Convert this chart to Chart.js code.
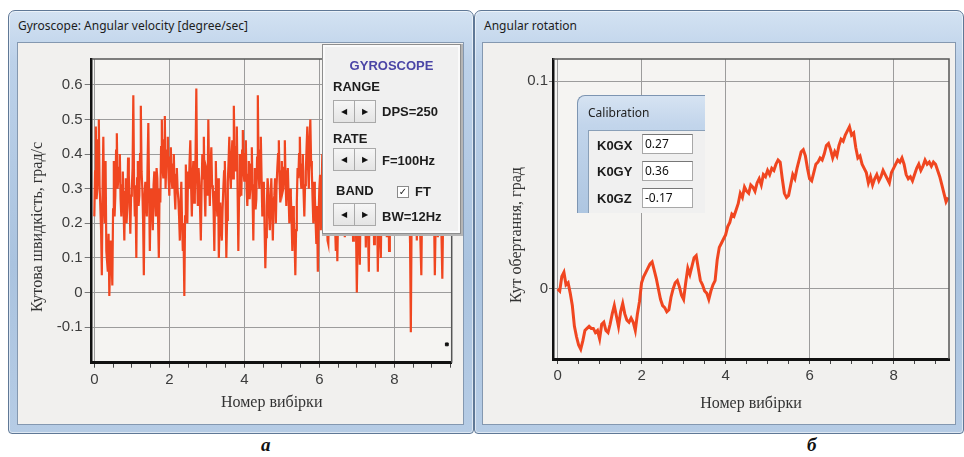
<!DOCTYPE html>
<html>
<head>
<meta charset="utf-8">
<script src="https://cdn.jsdelivr.net/npm/chart.js@4.4.1/dist/chart.umd.min.js"></script>
<style>
  body { margin: 0; width: 964px; height: 457px; background: #fff; position: relative; overflow: hidden; font-family: "Noto Sans", sans-serif; }
  .win { position: absolute; border: 1px solid #5f7896; border-radius: 7px 7px 4px 4px;
         background: linear-gradient(180deg, #d3e2f2 0%, #bcd1e9 12%, #aac3df 60%, #b6cce5 100%);
         box-shadow: inset 0 0 0 1px rgba(255,255,255,0.55); }
  .cap { position: absolute; font-size: 12px; color: #1c1c1c; }
  .client { position: absolute; background: #f1f0ee; border: 1px solid #8498b0; }
  canvas { position: absolute; }
  .sub { position: absolute; font: italic bold 19px "Liberation Serif", serif; color: #111; }

  #gyro { position: absolute; left: 323px; top: 45px; width: 133px; height: 184px; background: #f0f0f0;
          border: 2px solid #fafafa; outline: 1px solid #8d8d8d; box-shadow: 1px 1px 0 2px #b5b5b5; }
  #gyro div { position: absolute; font: bold 13px "Liberation Sans", Arial, sans-serif; color: #1d1d1d; line-height: 16px; white-space: nowrap; }
  #gyro .gt { left: 0; width: 133px; text-align: center; color: #4a45a6; }
  #gyro .btns { height: 22px; width: 42px; }
  #gyro .btns span { position: absolute; top: 0; width: 20px; height: 21px; background: linear-gradient(#f6f6f6, #e4e4e4);
          border: 1px solid #a9a9a9; font: 8px "DejaVu Sans", sans-serif; line-height: 21px; text-align: center; color: #111; }
  #gyro .chk { width: 10px; height: 10px; border: 1px solid #8a8a8a; background: #fff; font: bold 10px "DejaVu Sans"; line-height: 10px; text-align: center; }

  #calib { position: absolute; left: 577px; top: 95px; width: 128px; height: 118px; }
  #calib .bar { position: absolute; left: 0; top: 0; width: 128px; height: 118px; border-top-left-radius: 8px;
          background: linear-gradient(180deg, #d6e3f2 0%, #c2d5eb 25%, #aec6e1 100%);
          border-left: 1px solid #7d95b2; border-top: 1px solid #7d95b2; box-sizing: border-box; }
  #calib .ct { position: absolute; left: 11px; top: 9px; font-size: 12px; color: #222; }
  #calib .cc { position: absolute; left: 11px; top: 35px; width: 117px; height: 83px; background: #f0f0f0; border-left: 1px solid #8aa0b8; border-top: 1px solid #8aa0b8; box-sizing: border-box; }
  #calib .lb { position: absolute; left: 8px; font: bold 13px "Liberation Sans", Arial, sans-serif; color: #1a1a1a; }
  #calib .tb { position: absolute; left: 53px; width: 51px; height: 20px; background: #fff; border: 1px solid #a8a8a8; border-top-color: #777;
          box-sizing: border-box; font: 12px "Noto Sans", sans-serif; line-height: 18px; padding-left: 2px; color: #111; }
</style>
</head>
<body>

<div class="win" style="left:8px; top:10px; width:464px; height:422px;"></div>
<div class="cap" style="left:18px; top:17px;">Gyroscope: Angular velocity [degree/sec]</div>
<div class="client" style="left:17px; top:42px; width:445px; height:381px;"></div>

<div class="win" style="left:474px; top:10px; width:488px; height:422px;"></div>
<div class="cap" style="left:484px; top:17px;">Angular rotation</div>
<div class="client" style="left:482px; top:42px; width:472px; height:381px;"></div>

<canvas id="chartGyro" width="444" height="380" style="left:18px; top:43px;"></canvas>
<canvas id="chartRot" width="472" height="380" style="left:483px; top:43px;"></canvas>

<div id="gyro">
  <div class="gt" style="top:11px;">GYROSCOPE</div>
  <div style="left:8px; top:32px;">RANGE</div>
  <div class="btns" style="left:8px; top:53px;"><span style="left:0">&#9664;</span><span style="left:21px">&#9654;</span></div>
  <div style="left:57px; top:57px;">DPS=250</div>
  <div style="left:8px; top:84px;">RATE</div>
  <div class="btns" style="left:8px; top:101px;"><span style="left:0">&#9664;</span><span style="left:21px">&#9654;</span></div>
  <div style="left:57px; top:106px;">F=100Hz</div>
  <div style="left:11px; top:136px;">BAND</div>
  <div class="chk" style="left:72px; top:139px;">&#10003;</div>
  <div style="left:90px; top:137px;">FT</div>
  <div class="btns" style="left:8px; top:156px;"><span style="left:0">&#9664;</span><span style="left:21px">&#9654;</span></div>
  <div style="left:57px; top:162px;">BW=12Hz</div>
</div>

<div id="calib">
  <div class="bar"></div>
  <div class="ct">Calibration</div>
  <div class="cc">
    <div class="lb" style="top:7px;">K0GX</div><div class="tb" style="top:3px;">0.27</div>
    <div class="lb" style="top:33px;">K0GY</div><div class="tb" style="top:30px;">0.36</div>
    <div class="lb" style="top:60px;">K0GZ</div><div class="tb" style="top:57px;">-0.17</div>
  </div>
</div>

<div class="sub" style="left:261px; top:434px;">а</div>
<div class="sub" style="left:807px; top:434px;">б</div>

<script>
// angular velocity samples, one every 0.02 on the x axis (one row = 1.0)
const gyroStep = 0.02;
const gyroVelocity = [
  0.22,0.35, 0.48,0.27, 0.30,0.44, 0.50,0.31, 0.25,0.18, 0.05,0.30, 0.45,0.26, 0.20,0.38, 0.12,0.09, 0.06,0.17, -0.01,0.08, 0.15,0.10, 0.02,0.24, 0.38,0.22, 0.28,0.41, 0.46,0.30, 0.33,0.36, 0.40,0.27, 0.22,0.31, 0.35,0.24, 0.15,0.29, 0.33,0.20, 0.25,0.39, 0.34,0.26, 0.17,0.28,
  0.30,0.36, 0.57,0.31, 0.22,0.27, 0.10,0.33, 0.38,0.25, 0.28,0.40, 0.54,0.35, 0.30,0.21, 0.05,0.28, 0.32,0.26, 0.22,0.37, 0.49,0.30, 0.12,0.26, 0.30,0.24, 0.18,0.31, 0.35,0.27, 0.22,0.36, 0.33,0.21, 0.10,0.30, 0.26,0.42, 0.50,0.36, 0.33,0.44, 0.51,0.30, 0.38,0.41, 0.45,0.33,
  0.28,0.39, 0.42,0.33, 0.30,0.37, 0.40,0.29, 0.24,0.34, 0.36,0.30, 0.27,0.22, 0.15,0.26, 0.32,0.20, 0.12,0.16, -0.01,0.22, 0.37,0.28, 0.20,0.35, 0.30,0.38, 0.44,0.31, 0.22,0.33, 0.38,0.26, 0.28,0.40, 0.59,0.34, 0.25,0.36, 0.32,0.24, 0.15,0.30, 0.40,0.33, 0.45,0.30, 0.22,0.36,
  0.35,0.28, 0.50,0.34, 0.25,0.36, 0.42,0.31, 0.30,0.24, 0.12,0.29, 0.38,0.27, 0.22,0.33, 0.10,0.20, 0.26,0.19, 0.15,0.24, 0.30,0.35, 0.38,0.27, 0.10,0.21, 0.32,0.38, 0.45,0.34, 0.30,0.39, 0.44,0.33, 0.54,0.40, 0.35,0.42, 0.48,0.30, 0.12,0.28, 0.40,0.33, 0.28,0.41, 0.47,0.35,
  0.32,0.40, 0.44,0.30, 0.25,0.34, 0.38,0.27, 0.30,0.37, 0.42,0.28, 0.15,0.31, 0.36,0.24, 0.27,0.39, 0.57,0.35, 0.30,0.41, 0.45,0.33, 0.22,0.29, 0.32,0.19, 0.07,0.16, 0.25,0.33, 0.30,0.22, 0.18,0.27, 0.33,0.24, 0.15,0.26, 0.28,0.33, 0.20,0.31, 0.36,0.40, 0.44,0.32, 0.26,0.35,
  0.38,0.29, 0.30,0.36, 0.44,0.32, 0.25,0.35, 0.36,0.28, 0.20,0.30, 0.28,0.21, 0.12,0.25, 0.22,0.15, 0.05,0.18, 0.26,0.36, 0.33,0.40, 0.45,0.34, 0.30,0.37, 0.40,0.29, 0.22,0.31, 0.35,0.42, 0.48,0.36, 0.30,0.44, 0.50,0.38, 0.35,0.27, 0.20,0.32, 0.28,0.21, 0.14,0.25, 0.06,0.22,
  0.30,0.34, 0.18,0.29, 0.40,0.31, 0.25,0.38, 0.35,0.26, 0.22,0.15, 0.14,0.27, 0.30,0.36, 0.42,0.30, 0.20,0.28, 0.33,0.19, 0.12,0.25, 0.09,0.22, 0.28,0.35, 0.38,0.30, 0.24,0.33, 0.30,0.21, 0.16,0.29, 0.35,0.31, 0.27,0.40, 0.45,0.33, 0.22,0.37, 0.31,0.15, 0.18,0.30, 0.26,0.17,
  0.00,0.14, 0.25,0.18, 0.08,0.26, 0.32,0.24, 0.20,0.33, 0.40,0.27, 0.13,0.30, 0.28,0.17, 0.06,0.29, 0.35,0.26, 0.22,0.37, 0.30,0.14, 0.15,0.31, 0.38,0.25, 0.06,0.20, 0.27,0.16, 0.10,0.28, 0.34,0.30, 0.22,0.35, 0.42,0.29, 0.16,0.33, 0.30,0.12, 0.24,0.38, 0.36,0.28, 0.20,0.34,
  0.33,0.27, 0.18,0.31, 0.40,0.29, 0.26,0.37, 0.35,0.24, 0.20,0.36, 0.45,0.31, 0.28,0.22, 0.17,0.30, 0.34,0.28, 0.25,0.14, -0.115,0.20, 0.30,0.35, 0.20,0.29, 0.38,0.26, 0.15,0.33, 0.32,0.27, 0.22,0.13, 0.05,0.25, 0.36,0.24, 0.18,0.32, 0.30,0.36, 0.42,0.30, 0.24,0.39, 0.33,0.26,
  0.20,0.31, 0.35,0.22, 0.05,0.19, 0.30,0.27, 0.16,0.34, 0.40,0.29, 0.25,0.15, 0.04,0.21, 0.30,0.26, 0.18
];
const gyroMarker = [{ x: 9.4, y: -0.15 }];

// rotation angle samples, one every 0.05 on the x axis
const rotStep = 0.05;
const rotationAngle = [
  0.000, -0.001, 0.006, 0.008, 0.002, 0.003, -0.002, -0.008, -0.018, -0.023, -0.027, -0.029, -0.025, -0.020, -0.019, -0.018, -0.019, -0.019, -0.021, -0.020,
  -0.024, -0.017, -0.016, -0.020, -0.021, -0.017, -0.012, -0.008, -0.013, -0.018, -0.011, -0.007, -0.012, -0.015, -0.016, -0.014, -0.016, -0.020, -0.012, -0.006,
  0.003, 0.006, 0.008, 0.010, 0.012, 0.013, 0.009, 0.005, 0.000, -0.005, -0.008, -0.009, -0.011, -0.010, -0.004, 0.000, 0.003, 0.004, 0.001, -0.003,
  -0.005, 0.003, 0.010, 0.007, 0.011, 0.015, 0.016, 0.010, 0.004, 0.002, -0.001, -0.002, -0.005, -0.001, 0.002, 0.004, 0.014, 0.020, 0.022, 0.024,
  0.026, 0.030, 0.032, 0.036, 0.035, 0.038, 0.041, 0.046, 0.044, 0.049, 0.047, 0.046, 0.050, 0.049, 0.047, 0.051, 0.053, 0.050, 0.055, 0.054,
  0.057, 0.055, 0.058, 0.057, 0.060, 0.062, 0.061, 0.053, 0.046, 0.044, 0.045, 0.050, 0.055, 0.053, 0.058, 0.062, 0.066, 0.067, 0.064, 0.058,
  0.053, 0.052, 0.056, 0.060, 0.061, 0.063, 0.062, 0.065, 0.069, 0.070, 0.067, 0.063, 0.066, 0.064, 0.069, 0.072, 0.071, 0.074, 0.076, 0.078,
  0.074, 0.075, 0.068, 0.063, 0.064, 0.060, 0.058, 0.056, 0.051, 0.054, 0.050, 0.053, 0.055, 0.052, 0.054, 0.057, 0.055, 0.053, 0.051, 0.056,
  0.058, 0.060, 0.062, 0.061, 0.063, 0.060, 0.055, 0.053, 0.054, 0.052, 0.055, 0.058, 0.060, 0.057, 0.059, 0.062, 0.060, 0.061, 0.059, 0.061,
  0.060, 0.057, 0.054, 0.050, 0.046, 0.042, 0.044
];

// tick values
const xMajorTicks = [0, 2, 4, 6, 8];
const xMinorStep = 0.5;
const gyroYTicks = [-0.1, 0, 0.1, 0.2, 0.3, 0.4, 0.5, 0.6];
const rotYTicks = [0, 0.1];

const lineColor = '#f04620';
const gridColor = '#9c9c9c';
const tickFont = { family: '"Liberation Sans", Arial, sans-serif', size: 15 };

function toPoints(values, step) {
  return values.map((v, i) => ({ x: Math.round(i * step * 100) / 100, y: v }));
}

function minorTicks(max) {
  const out = [];
  for (let v = 0; v <= max; v += xMinorStep) out.push({ value: v });
  return out;
}

const isMajor = v => xMajorTicks.includes(v);

// plot background + thin frame on top / right
const plotFrame = {
  id: 'plotFrame',
  beforeDraw(chart) {
    const { ctx, chartArea: { left, top, right, bottom } } = chart;
    ctx.save();
    ctx.fillStyle = '#f5f4f2';
    ctx.fillRect(left, top, right - left, bottom - top);
    ctx.restore();
  },
  afterDraw(chart) {
    const { ctx, chartArea: { left, top, right, bottom } } = chart;
    ctx.save();
    ctx.strokeStyle = '#555';
    ctx.lineWidth = 1.5;
    ctx.beginPath();
    ctx.moveTo(left, top);
    ctx.lineTo(right, top);
    ctx.lineTo(right, bottom);
    ctx.stroke();
    ctx.restore();
  }
};

// vertical axis title, placed where the original program put it
const yTitle = {
  id: 'yTitle',
  afterDraw(chart, args, opts) {
    const { ctx } = chart;
    ctx.save();
    ctx.translate(opts.x, opts.y);
    ctx.rotate(-Math.PI / 2);
    ctx.font = '16px "Liberation Serif", "Times New Roman", serif';
    ctx.fillStyle = '#333';
    ctx.textAlign = 'center';
    ctx.textBaseline = 'middle';
    ctx.fillText(opts.text, 0, 0);
    ctx.restore();
  }
};

function xScale(min, max, axisHeight, titlePad) {
  return {
    type: 'linear', min: min, max: max,
    afterBuildTicks: s => { s.ticks = minorTicks(max); },
    afterFit: s => { s.height = axisHeight; },
    ticks: { font: tickFont, color: '#3c3c3c', padding: 3, maxRotation: 0, autoSkip: false,
             callback: v => isMajor(v) ? String(v) : '' },
    grid: { color: c => (c.tick && isMajor(c.tick.value)) ? gridColor : 'rgba(0,0,0,0)',
            tickColor: '#444', tickLength: 5, borderDash: [3, 3], tickBorderDash: [], lineWidth: 1 },
    border: { display: true, color: '#111', width: 3 },
    title: { display: true, text: 'Номер вибірки', color: '#333', padding: { top: 0, bottom: titlePad },
             font: { family: '"Liberation Serif", "Times New Roman", serif', size: 16 } }
  };
}

function yScale(min, max, tickVals, axisWidth, tickLen, tickPad) {
  return {
    min: min, max: max,
    afterBuildTicks: s => { s.ticks = tickVals.map(v => ({ value: v })); },
    afterFit: s => { s.width = axisWidth; },
    ticks: { font: tickFont, color: '#3c3c3c', padding: tickPad,
             callback: v => v === 0 ? '0' : v.toFixed(1) },
    grid: { color: gridColor, borderDash: [3, 3], tickBorderDash: [], tickColor: '#777', tickLength: tickLen, lineWidth: 1 },
    border: { display: true, color: '#111', width: 2.5 }
  };
}

new Chart(document.getElementById('chartGyro'), {
  type: 'line',
  data: {
    datasets: [{
      data: toPoints(gyroVelocity, gyroStep),
      borderColor: lineColor, borderWidth: 2.2, pointRadius: 0, tension: 0
    }, {
      data: gyroMarker, showLine: false,
      pointStyle: 'rect', pointRadius: 2, backgroundColor: '#111', borderColor: '#111'
    }]
  },
  options: {
    responsive: false, animation: false,
    layout: { padding: { left: 0, top: 16, right: 10.3, bottom: 0 } },
    scales: {
      x: xScale(-0.07, 9.53, 60.3, 10.7),
      y: yScale(-0.203, 0.675, gyroYTicks, 73.7, 7, 2)
    },
    plugins: {
      legend: { display: false }, tooltip: { enabled: false },
      yTitle: { text: 'Кутова швидкість, град/с', x: 20, y: 184 }
    }
  },
  plugins: [plotFrame, yTitle]
});

new Chart(document.getElementById('chartRot'), {
  type: 'line',
  data: {
    datasets: [{
      data: toPoints(rotationAngle, rotStep),
      borderColor: lineColor, borderWidth: 3, pointRadius: 0, tension: 0
    }]
  },
  options: {
    responsive: false, animation: false,
    layout: { padding: { left: 0, top: 16, right: 6, bottom: 0 } },
    scales: {
      x: xScale(-0.11, 9.32, 64, 10.1),
      y: yScale(-0.0337, 0.1106, rotYTicks, 70, 4, 1)
    },
    plugins: {
      legend: { display: false }, tooltip: { enabled: false },
      yTitle: { text: 'Кут обертання, град', x: 34, y: 192 }
    }
  },
  plugins: [plotFrame, yTitle]
});
</script>
</body>
</html>
